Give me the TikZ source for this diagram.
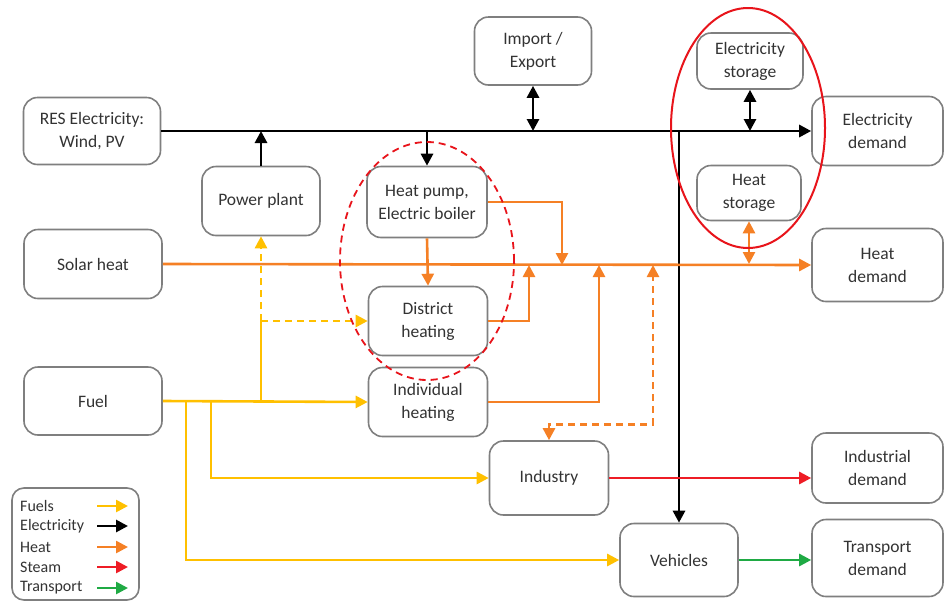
\documentclass[tikz,border=0pt]{standalone}
\usepackage{fontspec}
\setmainfont{Carlito}
\usetikzlibrary{arrows.meta,shapes.geometric}
\definecolor{fuelc}{HTML}{FFC000}
\definecolor{heatc}{HTML}{F58025}
\definecolor{steamc}{HTML}{EE1C25}
\definecolor{transc}{HTML}{1FAA44}
\definecolor{ringc}{HTML}{E8141B}
\definecolor{boxc}{HTML}{7F7F7F}
\definecolor{txtc}{HTML}{333333}
\tikzset{
  box/.style={draw=boxc, line width=1.6pt, rounded corners=14pt, fill=white, align=center,
    text=txtc, inner sep=0pt, font=\fontsize{17.5}{23}\selectfont},
  tip/.style={-{Triangle[length=12pt,width=12pt]}},
  btip/.style={{Triangle[length=12pt,width=12pt]}-{Triangle[length=12pt,width=12pt]}},
  elec/.style={draw=black, line width=2.8pt, tip},
  heat/.style={draw=heatc, line width=2.6pt, tip},
  fuel/.style={draw=fuelc, line width=2.6pt, tip},
  steam/.style={draw=steamc, line width=2.6pt, tip},
  trans/.style={draw=transc, line width=2.6pt, tip},
  lgtext/.style={anchor=west, text=txtc, inner sep=0pt, font=\fontsize{16}{19}\selectfont},
}
\begin{document}
\begin{tikzpicture}[x=1pt,y=-1pt]
\useasboundingbox (0,0) rectangle (945,603);
\fill[white] (0,0) rectangle (945,603);

% boxes
\node[box, minimum width=137, minimum height=67] (res) at (92,131) {RES Electricity:\\Wind, PV};
\node[box, minimum width=117, minimum height=68] (imp) at (533,51) {Import /\\Export};
\node[box, minimum width=106, minimum height=56] (es) at (750,61) {Electricity\\storage};
\node[box, minimum width=131, minimum height=69] (edem) at (877.5,131) {Electricity\\demand};
\node[box, minimum width=118, minimum height=69] (pp) at (261,201) {Power plant};
\node[box, minimum width=120, minimum height=71] (hp) at (427,202) {Heat pump,\\Electric boiler};
\node[box, minimum width=104, minimum height=55] (hs) at (749,193) {Heat\\storage};
\node[box, minimum width=138, minimum height=69] (solar) at (93,264) {Solar heat};
\node[box, minimum width=131, minimum height=73] (hdem) at (877.5,265) {Heat\\demand};
\node[box, minimum width=119, minimum height=69] (dh) at (428,321) {District\\heating};
\node[box, minimum width=138, minimum height=68] (fuel) at (93,401) {Fuel};
\node[box, minimum width=119, minimum height=69] (ih) at (428,402) {Individual\\heating};
\node[box, minimum width=119, minimum height=74] (ind) at (549,478) {Industry};
\node[box, minimum width=131, minimum height=70] (idem) at (877.5,468) {Industrial\\demand};
\node[box, minimum width=118, minimum height=73] (veh) at (679,560) {Vehicles};
\node[box, minimum width=131, minimum height=77] (tdem) at (877.5,558) {Transport\\demand};

% electricity
\draw[elec] (res.east) -- (edem.west);
\draw[elec] (pp.north) -- (pp.north |- res.east);
\draw[elec] (hp.north |- res.east) -- (hp.north);
\draw[elec,btip] (imp.south) -- (imp.south |- res.east);
\draw[elec,btip] (es.south) -- (es.south |- res.east);
\draw[elec] (veh.north |- res.east) -- (veh.north);

% heat
\coordinate (hpj) at (562,265);
\coordinate (dhj) at (529,265);
\coordinate (ihj) at (599,265);
\coordinate (indj) at (653,265);
\draw[heat] (solar.east) -- (hdem.west);
\draw[heat] (hp.east) -| (hpj);
\draw[heat] (hp.south) -- (dh.north);
\draw[heat] (dh.east) -| (dhj);
\draw[heat] (ih.east) -| (ihj);
\draw[heat,btip,dash pattern=on 7pt off 5pt] (ind.north) -- ++(0,-16) -| (indj);
\draw[heat,btip] (hs.south) -- (hs.south |- solar.east);

% fuels
\coordinate (fb) at (pp.south |- fuel.east);
\coordinate (fd) at (pp.south |- dh.west);
\coordinate (f1) at (211,401);
\coordinate (f2) at (186,401);
\draw[fuel] (fuel.east) -- (ih.west);
\draw[fuel,-] (fb) -- (fd);
\draw[fuel,dash pattern=on 7pt off 5pt] (fd) -- (pp.south);
\draw[fuel,dash pattern=on 7pt off 5pt] (fd) -- (dh.west);
\draw[fuel] (f1) |- (ind.west);
\draw[fuel] (f2) |- (veh.west);

% steam, transport
\draw[steam] (ind.east) -- (ind.east -| idem.west);
\draw[trans] (veh.east) -- (veh.east -| tdem.west);

% ellipses
\draw[ringc, line width=1.8pt, dash pattern=on 7pt off 5pt] (427,261) ellipse [x radius=87pt, y radius=119pt];
\draw[ringc, line width=2pt] (748,128) ellipse [x radius=77pt, y radius=120pt];

% legend
\node[draw=boxc, line width=1.6pt, rounded corners=12pt, minimum width=127, minimum height=112, inner sep=0pt] (lg) at (75.5,544) {};
\node[lgtext] (lg1) at (20,506) {Fuels};
\node[lgtext] (lg2) at (20,526) {Electricity};
\node[lgtext] (lg3) at (20,547) {Heat};
\node[lgtext] (lg4) at (20,567) {Steam};
\node[lgtext] (lg5) at (20,588) {Transport};
\draw[fuel] (97,506) -- (128,506);
\draw[elec] (97,526) -- (128,526);
\draw[heat] (97,547) -- (128,547);
\draw[steam] (97,567) -- (128,567);
\draw[trans] (97,588) -- (128,588);
\end{tikzpicture}
\end{document}
